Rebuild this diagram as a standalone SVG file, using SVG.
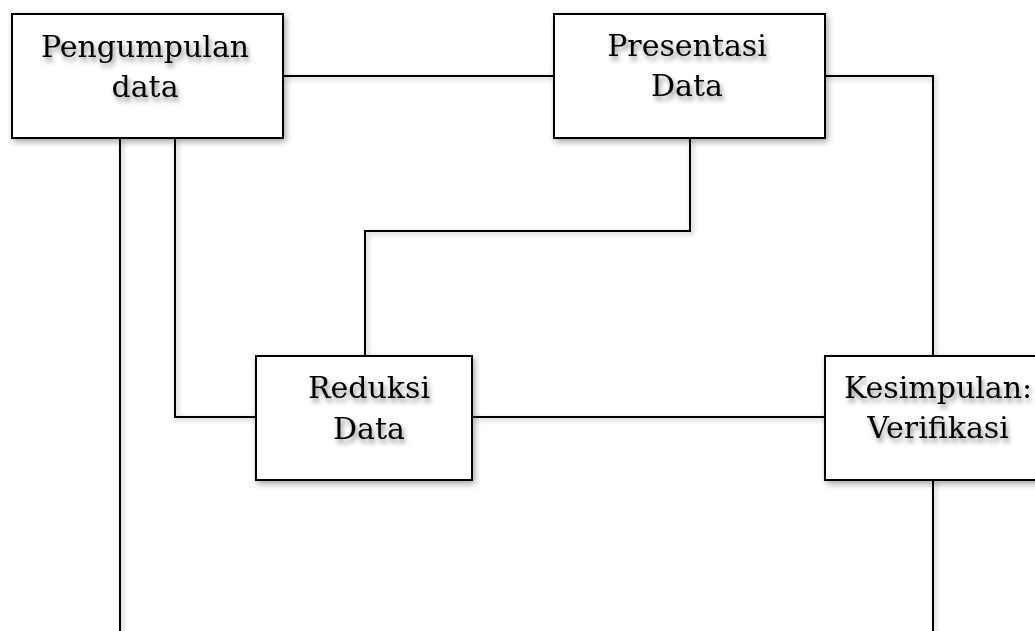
<svg xmlns="http://www.w3.org/2000/svg" width="1035" height="631" viewBox="0 0 1035 631">
<defs>
<filter id="sh" x="-20%" y="-20%" width="140%" height="140%">
<feDropShadow dx="2" dy="3" stdDeviation="3" flood-color="#000" flood-opacity="0.35"/>
</filter>
<filter id="tsh" x="-20%" y="-30%" width="140%" height="160%">
<feDropShadow dx="2" dy="4" stdDeviation="2.5" flood-color="#000" flood-opacity="0.45"/>
</filter>
<filter id="lsh" filterUnits="userSpaceOnUse" x="0" y="0" width="1035" height="631">
<feDropShadow dx="2" dy="2" stdDeviation="2.5" flood-color="#000" flood-opacity="0.3"/>
</filter>
</defs>
<style>
.box{fill:#fff;stroke:#000;stroke-width:2;filter:url(#sh)}
.lbl{font-family:"DejaVu Serif","Liberation Serif",serif;font-size:30px;fill:#000;text-anchor:middle;filter:url(#tsh)}
.con{fill:none;stroke:#000;stroke-width:2;filter:url(#lsh)}
</style>
<rect width="1035" height="631" fill="#fff"/>
<g id="connectors">
<path class="con" d="M283 76H554"/>
<path class="con" d="M825 76H933V356"/>
<path class="con" d="M690 138V231H365V356"/>
<path class="con" d="M120 138V631"/>
<path class="con" d="M175 138V417H256"/>
<path class="con" d="M472 417H825"/>
<path class="con" d="M933 480V631"/>
</g>
<g id="pengumpulan">
<rect class="box" x="12" y="14" width="271" height="124"/>
<text class="lbl"><tspan x="145" y="57">Pengumpulan</tspan><tspan x="145" y="97">data</tspan></text>
</g>
<g id="presentasi">
<rect class="box" x="554" y="14" width="271" height="124"/>
<text class="lbl"><tspan x="687" y="56">Presentasi</tspan><tspan x="687" y="96">Data</tspan></text>
</g>
<g id="reduksi">
<rect class="box" x="256" y="356" width="216" height="124"/>
<text class="lbl"><tspan x="369" y="398">Reduksi</tspan><tspan x="369" y="439">Data</tspan></text>
</g>
<g id="kesimpulan">
<rect class="box" x="825" y="356" width="226" height="124"/>
<text class="lbl"><tspan x="938" y="398">Kesimpulan:</tspan><tspan x="938" y="438">Verifikasi</tspan></text>
</g>
</svg>
